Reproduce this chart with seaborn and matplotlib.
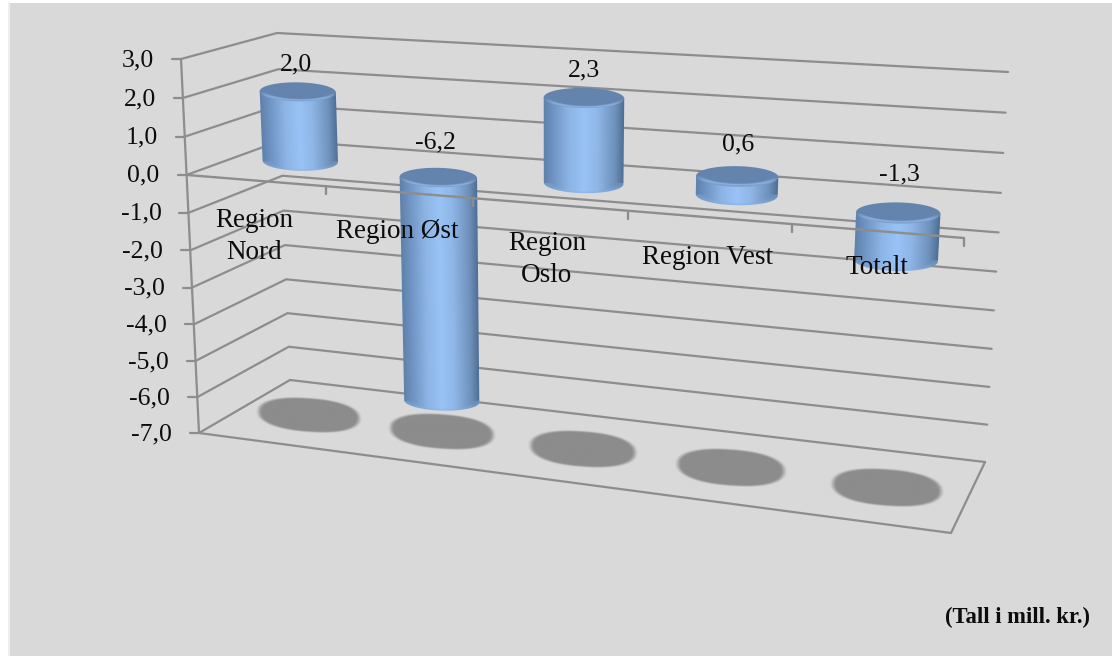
import numpy as np
import pandas as pd
import seaborn as sns
import matplotlib
matplotlib.use("Agg")
import matplotlib.pyplot as plt
from matplotlib.path import Path
from matplotlib.patches import PathPatch, Rectangle
from matplotlib.colors import to_rgb

# Chart data
regions = ["Region\nNord", "Region Øst", "Region\nOslo", "Region Vest", "Totalt"]
results = [2.0, -6.2, 2.3, 0.6, -1.3]
value_ticks = [3, 2, 1, 0, -1, -2, -3, -4, -5, -6, -7]
unit_note = "(Tall i mill. kr.)"

# Box corners on the canvas, as (x, y) at the top and bottom of the value range
FRONT_LEFT = ((181, 59), (199, 433))
BACK_LEFT = ((277, 33), (290, 380))
BACK_RIGHT = ((1008, 72), (985, 462))
FRONT_RIGHT = ((969.8, 105.5), (951, 533))
VMAX, VMIN = 3.0, -7.0
PERSP_X, PERSP_V = 1.14, 0.954

GRID = "#8d8d8d"
BACKGROUND = "#d9d9d9"
INK = "#0c0c0c"
SERIF = ["Liberation Serif", "DejaVu Serif"]

# Columns stop a little short of their nominal ends because of the bevel
LID_INSET, FOOT_INSET = 4.0, 1.5


def persp(s, w):
    return s / (w - (w - 1) * s)


def project(t, d, v):
    """Category position t (0-5), depth d (0 front, 1 back), value v -> canvas x, y."""
    u = persp(np.asarray(t, float) / 5.0, PERSP_X)
    s = persp((VMAX - np.asarray(v, float)) / (VMAX - VMIN), PERSP_V)
    corner = lambda c, i: c[0][i] + (c[1][i] - c[0][i]) * s
    out = []
    for i in (0, 1):
        front = corner(FRONT_LEFT, i) + (corner(FRONT_RIGHT, i) - corner(FRONT_LEFT, i)) * u
        back = corner(BACK_LEFT, i) + (corner(BACK_RIGHT, i) - corner(BACK_LEFT, i)) * u
        out.append(front + (back - front) * d)
    return out[0], out[1]


def smoothstep(a, b, x):
    k = np.clip((x - a) / (b - a), 0, 1)
    return k * k * (3 - 2 * k)


sns.set_theme(style="white")
plt.rcParams["font.family"] = SERIF

fig = plt.figure(figsize=(11.12, 6.56), dpi=100, facecolor="white")
ax = fig.add_axes([0, 0, 1, 1])
ax.set_axis_off()

ax.add_patch(Rectangle((10, 3), 1102, 653, facecolor=BACKGROUND, edgecolor="none", zorder=0))
ax.add_patch(Rectangle((8, 2), 2, 654, facecolor="#efefef", edgecolor="none", zorder=0))

# Wall gridlines and the floor outline
rows = []
for v in value_ticks:
    for i, (t, d) in enumerate([(0, 0), (0, 1), (5, 1)]):
        x, y = project(t, d, v)
        rows.append(dict(line=f"g{v}", step=i, px=float(x), py=float(y)))
for i, (t, d) in enumerate([(0, 0), (5, 0), (5, 1)]):
    x, y = project(t, d, VMIN)
    rows.append(dict(line="floor", step=i, px=float(x), py=float(y)))
top_x, top_y = project(0, 0, VMAX)
bot_x, bot_y = project(0, 0, VMIN)
rows += [dict(line="vaxis", step=0, px=float(top_x), py=float(top_y)),
         dict(line="vaxis", step=1, px=float(bot_x), py=float(bot_y))]
for v in value_ticks:
    x, y = project(0, 0, v)
    rows += [dict(line=f"vt{v}", step=0, px=float(x), py=float(y)),
             dict(line=f"vt{v}", step=1, px=float(x) - 9, py=float(y))]
frame = pd.DataFrame(rows)
sns.lineplot(data=frame, x="px", y="py", units="line", estimator=None, sort=False,
             color=GRID, lw=1.6, legend=False, ax=ax, zorder=1)

# Category axis in the zero plane, drawn across the columns
rows = []
for t in [0, 5]:
    x, y = project(t, 0, 0)
    rows.append(dict(line="axis", step=t, px=float(x), py=float(y)))
for t in range(1, 6):
    x, y = project(t, 0, 0)
    rows += [dict(line=f"t{t}", step=0, px=float(x), py=float(y)),
             dict(line=f"t{t}", step=1, px=float(x), py=float(y) + 8)]
sns.lineplot(data=pd.DataFrame(rows), x="px", y="py", units="line", estimator=None, sort=False,
             color=GRID, lw=1.7, legend=False, ax=ax, zorder=6)


def shadow(t):
    half = 0.39 - 0.012 * t
    cx, cy = project(t + 0.5, 0.5, VMIN)
    lx, ly = project(t + 0.5 - half, 0.5, VMIN)
    rx, ry_ = project(t + 0.5 + half, 0.5, VMIN)
    a = (rx - lx) / 2
    slope = 0.55 * (ry_ - ly) / (rx - lx)
    b = a * 0.335
    gx, gy = np.meshgrid(np.linspace(cx - a - 8, cx + a + 8, 160),
                         np.linspace(cy - b - 16, cy + b + 16, 100))
    q = (np.abs((gx - cx) / a) ** 2.3 + np.abs((gy - cy - slope * (gx - cx)) / b) ** 2.3) ** (1 / 2.3)
    rgba = np.zeros(gx.shape + (4,))
    rgba[..., :3] = to_rgb("#8c8c8c")
    rgba[..., 3] = 1 - smoothstep(0.92, 1.06, q)
    ax.imshow(rgba, extent=(gx.min(), gx.max(), gy.max(), gy.min()), aspect="auto",
              interpolation="bilinear", zorder=2)


SIDE_STOPS = [0.0, 0.12, 0.32, 0.5, 0.66, 0.88, 1.0]
SIDE_COLORS = [to_rgb(c) for c in ("#5f81ab", "#7095c4", "#8db5e6", "#99c3f6",
                                   "#8fb7e8", "#6f92bc", "#4c6c92")]
LID_FILL, LID_RIM = np.array(to_rgb("#6484ae")), np.array(to_rgb("#8db3e2"))
FOOT_RIM = np.array(to_rgb("#86aee0"))


def ellipse_points(cx, cy, a, slope, b, start, stop, n=60):
    th = np.linspace(start, stop, n)
    x = cx + a * np.cos(th)
    y = cy + a * slope * np.cos(th) + b * np.sin(th)
    return np.column_stack([x, y])


def cylinder(t, value):
    hi, lo = max(value, 0.0), min(value, 0.0)
    half = 0.28 - 0.0065 * t
    frames = []
    for v, inset in ((hi, LID_INSET), (lo, -FOOT_INSET)):
        cx, cy = project(t + 0.5, 0.5, v)
        lx, ly = project(t + 0.5 - half, 0.5, v)
        rx, ry_ = project(t + 0.5 + half, 0.5, v)
        a = float(rx - lx) / 2
        frames.append((float(cx), float(cy) + inset, a,
                       float(ry_ - ly) / float(rx - lx) * 0.25, a * 0.25))

    (tx, ty, ta, ts, tb), (bx, by, ba, bs, bb) = frames
    # side wall: from the left end of the lid, round the foot, back up the right side
    outline = np.vstack([
        [[tx - ta, ty - ta * ts]],
        ellipse_points(bx, by, ba, bs, bb, np.pi, 0),
        [[tx + ta, ty + ta * ts]],
    ])
    x0, x1 = outline[:, 0].min() - 1, outline[:, 0].max() + 1
    y0, y1 = outline[:, 1].min() - 1, outline[:, 1].max() + 1
    gx, gy = np.meshgrid(np.linspace(x0, x1, 220), np.linspace(y0, y1, 320))
    # horizontal position inside the wall, following the slight lean of the column
    frac = (gy - ty) / max(by - ty, 1)
    cen = tx + (bx - tx) * frac
    half_w = ta + (ba - ta) * frac
    pos = np.clip((gx - cen + half_w) / (2 * half_w), 0, 1)
    rgb = np.stack([np.interp(pos, SIDE_STOPS, [c[i] for c in SIDE_COLORS]) for i in range(3)], axis=-1)
    q = np.hypot((gx - bx) / ba, (gy - by - bs * (gx - bx)) / bb)
    rim = (smoothstep(0.72, 1.0, q) * (gy > by) * 0.55)[..., None]
    rgb = rgb * (1 - rim) + FOOT_RIM * rim
    wall = ax.imshow(rgb, extent=(x0, x1, y1, y0), aspect="auto", interpolation="bilinear", zorder=3)
    wall.set_clip_path(PathPatch(Path(np.vstack([outline, outline[:1]])), transform=ax.transData))

    # lid with a lighter bevel along its near edge
    x0, x1 = tx - ta - 1, tx + ta + 1
    y0, y1 = ty - tb - ta * abs(ts) - 1, ty + tb + ta * abs(ts) + 1
    gx, gy = np.meshgrid(np.linspace(x0, x1, 200), np.linspace(y0, y1, 80))
    ly = gy - ty - ts * (gx - tx)
    q = np.hypot((gx - tx) / ta, (ly + tb * 0.05) / (tb * 0.95))
    mix = (smoothstep(0.82, 0.95, q) * smoothstep(0.0, 0.7 * tb, ly) *
           (1 - 0.45 * smoothstep(0.97, 1.08, q)))[..., None]
    rgb = LID_FILL * (1 - mix) + LID_RIM * mix
    lid = ax.imshow(rgb, extent=(x0, x1, y1, y0), aspect="auto", interpolation="bilinear", zorder=4)
    lid_path = ellipse_points(tx, ty, ta, ts, tb, 0, 2 * np.pi, 120)
    lid.set_clip_path(PathPatch(Path(lid_path), transform=ax.transData))


for i, value in enumerate(results):
    shadow(i)
    cylinder(i, value)

ax.set_xlim(0, 1112)
ax.set_ylim(656, 0)
ax.set_xlabel("")
ax.set_ylabel("")

fmt = lambda v: f"{v:.1f}".replace(".", ",")

# Value axis labels
for v in value_ticks:
    x, y = project(0, 0, v)
    ax.text(float(x) - 27, float(y) + 1, fmt(v), ha="right", va="center", fontsize=18.5, color=INK, zorder=7)

# Data labels above each column
data_label_xy = [(296, 64), (435, 142), (584, 70), (738, 144), (899, 174)]
for (x, y), value in zip(data_label_xy, results):
    ax.text(x, y, fmt(value), ha="center", va="center", fontsize=18.5, color=INK, zorder=7)

# Category labels
category_xy = [(254, 236.5), (397, 232), (547, 259.5), (707, 257), (877, 268)]
for (x, y), name in zip(category_xy, regions):
    ax.text(x, y, name, ha="center", va="center", fontsize=19.5, linespacing=1.38, color=INK, zorder=7)

ax.text(1090, 617, unit_note, ha="right", va="center", fontsize=16.3, fontweight="bold", color=INK, zorder=7)

fig.savefig("out.png", dpi=100, facecolor="white")
